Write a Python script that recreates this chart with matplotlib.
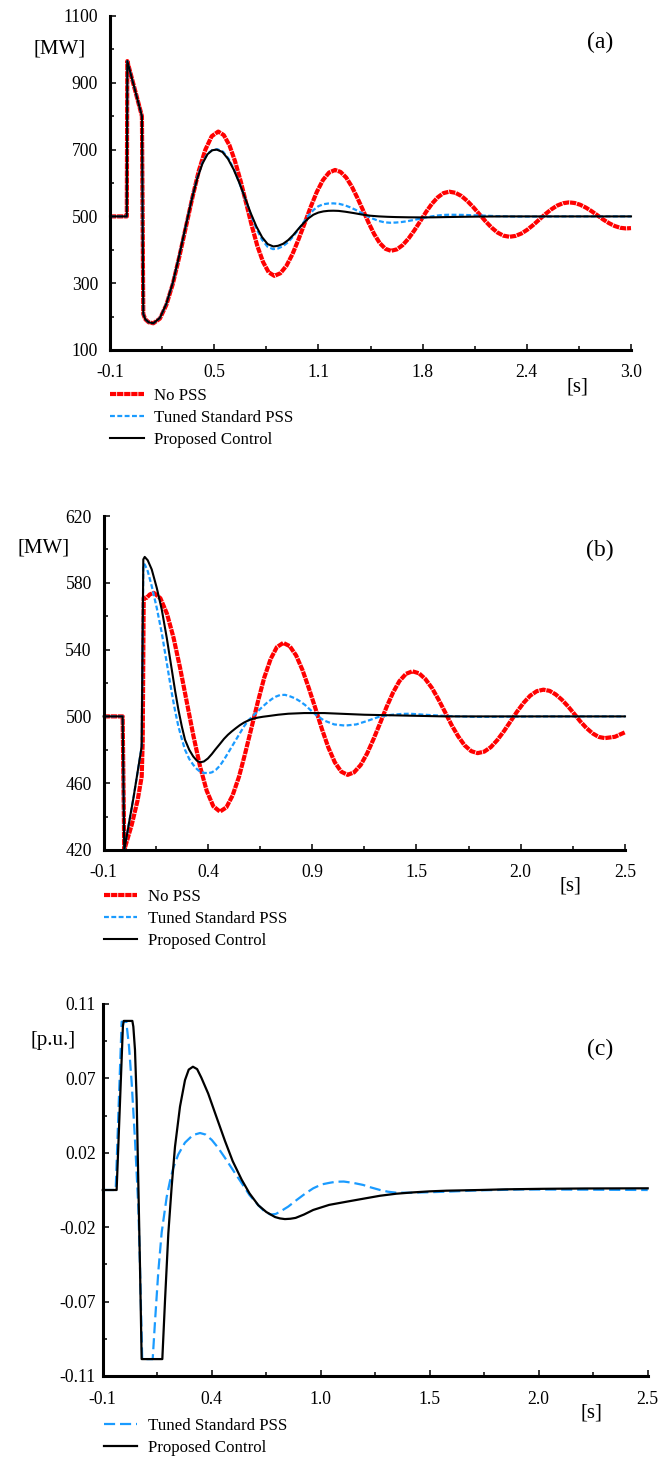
import numpy as np
import matplotlib
matplotlib.use("Agg")
import matplotlib.pyplot as plt
from matplotlib.ticker import FixedLocator, FixedFormatter, AutoMinorLocator

plt.rcParams['font.family'] = ['Liberation Serif', 'DejaVu Serif']

# ---------------- data: panel (a) ----------------
t_a_nopss = [-0.1, 0.0, 0.003, 0.09, 0.098, 0.11, 0.13,
             0.158, 0.197, 0.235, 0.274, 0.312, 0.351, 0.390, 0.428, 0.467, 0.505,
             0.544, 0.577, 0.611, 0.644, 0.678, 0.711, 0.744, 0.777, 0.811, 0.844,
             0.878, 0.914, 0.950, 0.986, 1.022, 1.059, 1.095, 1.131, 1.167, 1.203,
             1.239, 1.272, 1.306, 1.339, 1.372, 1.406, 1.439, 1.472, 1.505, 1.539,
             1.572, 1.607, 1.641, 1.676, 1.711, 1.746, 1.780, 1.815, 1.850, 1.884,
             1.919, 1.955, 1.991, 2.026, 2.062, 2.098, 2.134, 2.170, 2.205, 2.241,
             2.277, 2.312, 2.348, 2.383, 2.419, 2.454, 2.489, 2.525, 2.560, 2.596,
             2.631, 2.665, 2.699, 2.733, 2.767, 2.801, 2.834, 2.868, 2.902, 2.936,
             2.97, 3.0]
v_a_nopss = [500, 500, 965, 800, 208, 192, 183,
             180, 194.1, 234.8, 298.3, 378.3, 467, 555.7, 635.7, 699.2, 739.9,
             754, 743.4, 712.7, 665, 604.7, 538, 471.3, 411, 363.3, 332.6,
             322, 329.8, 352.3, 387.3, 431.5, 480.5, 529.5, 573.7, 608.7, 631.2,
             639, 633.1, 615.9, 589.1, 555.4, 518, 480.6, 446.9, 420.1, 402.9,
             397, 401.3, 413.9, 433.5, 458.2, 485.5, 512.8, 537.5, 557.1, 569.7,
             574, 570.7, 561.1, 546.2, 527.4, 506.5, 485.6, 466.8, 451.9, 442.3,
             439, 441.5, 448.8, 460.2, 474.6, 490.5, 506.4, 520.8, 532.2, 539.5,
             542, 540.1, 534.6, 525.9, 515.1, 503, 490.9, 480.1, 471.4, 465.9,
             464, 465]

t_a_pss = [-0.1, 0.0, 0.003, 0.09, 0.098, 0.11, 0.13,
           0.158, 0.197, 0.235, 0.274, 0.312, 0.351, 0.390, 0.420, 0.450, 0.480, 0.510,
           0.54, 0.573, 0.606, 0.639, 0.672, 0.705, 0.738, 0.771, 0.804, 0.837,
           0.87, 0.90, 0.93, 0.96, 0.99, 1.02, 1.05, 1.08, 1.11, 1.14, 1.17, 1.20,
           1.229, 1.263, 1.296, 1.330, 1.364, 1.398, 1.431, 1.465, 1.499, 1.532,
           1.566, 1.601, 1.637, 1.672, 1.708, 1.743, 1.778, 1.814, 1.849, 1.885,
           1.92, 2.0, 2.1, 2.2, 2.3, 2.45, 2.6, 3.0]
v_a_pss = [500, 500, 965, 800, 208, 192, 183,
           180, 196, 238, 302, 383, 472, 560, 618, 661, 688, 699,
           701, 693.7, 672.4, 639.4, 597.7, 551.5, 505.3, 463.6, 430.6, 409.3,
           402, 404, 411, 423, 440, 460, 481, 502, 519, 530.5, 536.5, 538.7,
           539, 537.6, 533.5, 527, 519, 510, 501, 493, 486.5, 482.4,
           481, 481.6, 483.3, 485.9, 489.3, 493, 496.7, 500.1, 502.7, 504.4,
           505, 504.5, 502.8, 500.8, 499.6, 499.5, 500, 500]

t_a_prop = [-0.1, 0.0, 0.003, 0.09, 0.098, 0.11, 0.13,
            0.158, 0.197, 0.235, 0.274, 0.312, 0.351, 0.390, 0.420, 0.450, 0.480, 0.508,
            0.535, 0.569, 0.602, 0.636, 0.670, 0.704, 0.737, 0.771, 0.805, 0.838,
            0.872, 0.90, 0.93, 0.96, 0.99, 1.02, 1.05, 1.08, 1.11, 1.14, 1.17, 1.20,
            1.229, 1.26, 1.30, 1.35, 1.40, 1.45, 1.50, 1.55, 1.60, 1.675, 1.75, 1.825,
            1.90, 2.0, 2.10, 2.25, 2.4, 3.0]
v_a_prop = [500, 500, 965, 800, 208, 192, 183,
            180, 196, 238, 302, 383, 472, 558, 615, 658, 686, 698,
            700, 692.9, 672.3, 640.2, 599.8, 555, 510.2, 469.8, 437.7, 417.1,
            410, 412, 418, 429, 444, 462, 479, 494, 505, 511.5, 515, 516.7,
            517, 516.5, 514, 510, 505.5, 502, 500, 498.8, 498, 497.3, 497, 497.3,
            498, 498.8, 499.5, 500, 500, 500]

# ---------------- data: panel (b) ----------------
t_b_nopss = [-0.1, -0.005, 0.003, 0.04, 0.07, 0.09, 0.095, 0.1, 0.115, 0.13,
             0.15, 0.183, 0.216, 0.249, 0.282, 0.315, 0.348, 0.381, 0.414, 0.447,
             0.48, 0.512, 0.543, 0.575, 0.606, 0.638, 0.670, 0.701, 0.733, 0.764,
             0.796, 0.828, 0.860, 0.892, 0.924, 0.957, 0.989, 1.021, 1.053, 1.085,
             1.117, 1.149, 1.182, 1.214, 1.246, 1.279, 1.311, 1.343, 1.375, 1.408,
             1.44, 1.473, 1.505, 1.538, 1.570, 1.603, 1.635, 1.668, 1.700, 1.733,
             1.765, 1.798, 1.831, 1.863, 1.896, 1.929, 1.962, 1.995, 2.027, 2.060,
             2.093, 2.124, 2.154, 2.185, 2.216, 2.247, 2.277, 2.308, 2.339, 2.369,
             2.40, 2.45, 2.5]
v_b_nopss = [500, 500, 420, 435, 450, 464, 485, 571, 571, 573,
             574, 570.8, 561.5, 547, 528.7, 508.5, 488.3, 470, 455.5, 446.2,
             443, 445.5, 452.6, 463.8, 477.9, 493.5, 509.1, 523.2, 534.4, 541.5,
             544, 542.1, 536.5, 527.7, 516.7, 504.5, 492.3, 481.3, 472.5, 466.9,
             465, 466.5, 470.9, 477.8, 486.4, 496, 505.6, 514.2, 521.1, 525.5,
             527, 525.8, 522.3, 516.9, 510.1, 502.5, 494.9, 488.1, 482.7, 479.2,
             478, 478.9, 481.6, 485.8, 491.1, 497, 502.9, 508.2, 512.4, 515.1,
             516, 515.3, 513.2, 510, 506, 501.5, 497, 493, 489.8, 487.7,
             487, 487.8, 490.5]

t_b_pss = [-0.1, -0.005, 0.003, 0.05, 0.09, 0.098, 0.105, 0.12, 0.14, 0.165, 0.19, 0.215, 0.24, 0.257,
           0.273, 0.29, 0.306, 0.327, 0.347, 0.365, 0.38, 0.40, 0.422, 0.44, 0.46, 0.48, 0.50, 0.525,
           0.55, 0.575, 0.60, 0.625, 0.647, 0.67, 0.69, 0.715, 0.74, 0.76, 0.78, 0.805, 0.83, 0.855,
           0.88, 0.905, 0.93, 0.963, 1.00, 1.05, 1.104, 1.16, 1.22, 1.279, 1.34, 1.39, 1.428, 1.50,
           1.6, 1.75, 1.9, 2.1, 2.5]
v_b_pss = [500, 500, 420, 452, 482, 591, 591, 587, 578, 565, 550, 532, 514, 503,
           494, 486.5, 480, 474.5, 471, 468.5, 467, 466.2, 466, 466.5, 468, 470.5, 474, 479,
           484, 489, 494, 498, 500.5, 503.2, 505.5, 508.2, 510.5, 511.9, 512.8, 512.9, 512, 510.8,
           509, 506.8, 504, 500.5, 497.5, 495.2, 494.5, 495.2, 497.5, 500, 501, 501.5, 501.6, 501,
           500.3, 499.7, 499.8, 500, 500]

t_b_prop = [-0.1, -0.005, 0.003, 0.05, 0.09, 0.098, 0.105, 0.12, 0.14, 0.165, 0.19, 0.215, 0.24, 0.257,
            0.273, 0.29, 0.306, 0.327, 0.347, 0.365, 0.381, 0.40, 0.42, 0.44, 0.456, 0.48, 0.50, 0.52,
            0.539, 0.56, 0.58, 0.60, 0.622, 0.645, 0.67, 0.695, 0.721, 0.77, 0.821, 0.9, 1.0, 1.1,
            1.2, 1.4, 1.6, 2.0, 2.5]
v_b_prop = [500, 500, 420, 452, 482, 594, 595.5, 593.5, 588, 577, 564, 547, 528, 515,
            504, 494, 486, 480, 476, 473.5, 472.5, 473, 474.8, 477.5, 480, 483.5, 486.5, 489,
            491, 493, 494.8, 496.3, 497.6, 498.6, 499.3, 499.8, 500.2, 501, 501.6, 502, 502, 501.5,
            501, 500.5, 500, 500, 500]

# ---------------- data: panel (c) ----------------
t_c_pss = [-0.1, -0.0385, -0.02, -0.01, 0.012, 0.025, 0.038, 0.0536, 0.0695, 0.0775, 0.088, 0.138,
           0.149, 0.165, 0.181, 0.205, 0.22, 0.236, 0.26, 0.292, 0.33, 0.364, 0.39, 0.42, 0.45,
           0.483, 0.52, 0.563, 0.60, 0.642, 0.67, 0.70, 0.725, 0.746, 0.785, 0.825, 0.865, 0.904,
           0.944, 0.984, 1.015, 1.05, 1.095, 1.142, 1.18, 1.223, 1.26, 1.30, 1.38, 1.46, 1.54,
           1.7, 1.9, 2.2, 2.5]
v_c_pss = [0, 0, 0.065, 0.0995, 0.0995, 0.085, 0.063, 0.0296, -0.0099, -0.0454, -0.1, -0.1,
           -0.078, -0.048, -0.025, -0.004, 0.005, 0.013, 0.021, 0.028, 0.0325, 0.0337, 0.0328, 0.0296, 0.025,
           0.019, 0.012, 0.004, -0.003, -0.009, -0.0125, -0.0145, -0.0142, -0.0128, -0.0098, -0.0059, -0.0022, 0.001,
           0.0033, 0.0043, 0.0049, 0.005, 0.0042, 0.003, 0.0015, 0.0, -0.001, -0.0016, -0.0016, -0.0013, -0.001,
           -0.0002, 0.0003, 0.0002, 0.0]

t_c_prop = [-0.1, -0.034, -0.004, 0.0, 0.041, 0.0457, 0.0536, 0.0616, 0.0695, 0.0775, 0.0854, 0.184,
            0.197, 0.2127, 0.2286, 0.2445, 0.2683, 0.2922, 0.31, 0.33, 0.35, 0.37, 0.403, 0.44, 0.483,
            0.52, 0.563, 0.60, 0.642, 0.68, 0.722, 0.745, 0.769, 0.795, 0.82, 0.86, 0.904, 0.98, 1.064,
            1.15, 1.223, 1.30, 1.382, 1.46, 1.541, 1.7, 1.82, 2.0, 2.2, 2.5]
v_c_prop = [0, 0, 0.097, 0.1, 0.1, 0.0966, 0.0828, 0.0532, 0.004, -0.0454, -0.1, -0.1,
            -0.065, -0.0256, 0.002, 0.0256, 0.0493, 0.065, 0.0712, 0.0729, 0.0715, 0.0665, 0.057, 0.044, 0.029,
            0.017, 0.006, -0.002, -0.009, -0.013, -0.016, -0.0168, -0.0172, -0.0170, -0.0165, -0.0145, -0.0118, -0.0088, -0.0069,
            -0.005, -0.0034, -0.0022, -0.0014, -0.0008, -0.0004, 0.0, 0.0004, 0.0007, 0.0009, 0.001]

# tick labels
xlabels_a = ['-0.1', '0.5', '1.1', '1.8', '2.4', '3.0']
ylabels_a = ['100', '300', '500', '700', '900', '1100']
xlabels_b = ['-0.1', '0.4', '0.9', '1.5', '2.0', '2.5']
ylabels_b = ['420', '460', '500', '540', '580', '620']
xlabels_c = ['-0.1', '0.4', '1.0', '1.5', '2.0', '2.5']
ylabels_c = ['-0.11', '-0.07', '-0.02', '0.02', '0.07', '0.11']

names = ['No PSS', 'Tuned Standard PSS', 'Proposed Control']

# ---------------- figure ----------------
W, H = 671, 1459
fig = plt.figure(figsize=(W / 100, H / 100), dpi=100)
FS = 12.7
LFS = 12.2

def rect(l, t, r, b):
    return [l / W, 1 - b / H, (r - l) / W, (b - t) / H]

def fpos(x, y):
    return (x / W, 1 - y / H)

RED = '#ff0000'
BLUE = '#1a9bff'
BLACK = '#000000'

def style(ax, xlim, ylim, xl, yl, ypad=8.5, xpad=10):
    ax.set_xlim(*xlim)
    ax.set_ylim(*ylim)
    for s in ['top', 'right']:
        ax.spines[s].set_visible(False)
    for s in ['left', 'bottom']:
        ax.spines[s].set_linewidth(2.2)
    ax.xaxis.set_major_locator(FixedLocator(np.linspace(xlim[0], xlim[1], 6)))
    ax.xaxis.set_major_formatter(FixedFormatter(xl))
    ax.yaxis.set_major_locator(FixedLocator(np.linspace(ylim[0], ylim[1], 6)))
    ax.yaxis.set_major_formatter(FixedFormatter(yl))
    ax.xaxis.set_minor_locator(AutoMinorLocator(2))
    ax.yaxis.set_minor_locator(AutoMinorLocator(2))
    ax.tick_params(which='both', direction='in', width=1.1, labelsize=FS)
    ax.tick_params(which='major', length=4)
    ax.tick_params(which='minor', length=2.8)
    ax.tick_params(axis='x', which='major', pad=xpad)
    ax.tick_params(axis='y', which='major', pad=ypad)

red_ls = (0, (1.5, 0.2))
blue_ls_short = (0, (2.2, 1.1))
blue_ls_long = (0, (5, 2.2))

# panel (a)
ax_a = fig.add_axes(rect(110, 16, 631, 350))
style(ax_a, (-0.1, 3.0), (100, 1100), xlabels_a, ylabels_a)
ax_a.plot(t_a_nopss, v_a_nopss, color=RED, lw=3.0, ls=red_ls, label=names[0], clip_on=False)
ax_a.plot(t_a_pss, v_a_pss, color=BLUE, lw=1.6, ls=blue_ls_short, label=names[1], clip_on=False)
ax_a.plot(t_a_prop, v_a_prop, color=BLACK, lw=1.5, label=names[2], clip_on=False)

# panel (b)
ax_b = fig.add_axes(rect(103.6, 516, 625, 850))
style(ax_b, (-0.1, 2.5), (420, 620), xlabels_b, ylabels_b)
ax_b.plot(t_b_nopss, v_b_nopss, color=RED, lw=3.0, ls=red_ls, label=names[0], clip_on=False)
ax_b.plot(t_b_pss, v_b_pss, color=BLUE, lw=1.6, ls=blue_ls_short, label=names[1], clip_on=False)
ax_b.plot(t_b_prop, v_b_prop, color=BLACK, lw=1.5, label=names[2], clip_on=False)

# panel (c)
ax_c = fig.add_axes(rect(102.8, 1004, 647.7, 1376))
style(ax_c, (-0.1, 2.5), (-0.11, 0.11), xlabels_c, ylabels_c, ypad=5, xpad=11)
ax_c.plot(t_c_pss, v_c_pss, color=BLUE, lw=1.6, ls=blue_ls_long, label=names[1], clip_on=False)
ax_c.plot(t_c_prop, v_c_prop, color=BLACK, lw=1.6, label=names[2], clip_on=False)

# texts
for (x, y, s, fs) in [(59.6, 49.3, '[MW]', 15), (43.2, 548.3, '[MW]', 15), (52.9, 1041, '[p.u.]', 15),
                      (600.5, 42.3, '(a)', 17), (600, 550, '(b)', 17), (600, 1049.3, '(c)', 17),
                      (577.7, 386.7, '[s]', 15), (570.8, 886, '[s]', 15), (591.5, 1413.3, '[s]', 15)]:
    fig.text(*fpos(x, y), s, ha='center', va='center', fontsize=fs)

# legends
for ax, (lx, ly) in [(ax_a, (110, 388)), (ax_b, (103.6, 889)), (ax_c, (103.6, 1418))]:
    ax.legend(loc='upper left', bbox_to_anchor=fpos(lx, ly), bbox_transform=fig.transFigure,
              frameon=False, borderaxespad=0, borderpad=0, fontsize=LFS,
              handlelength=2.0, handletextpad=0.6, labelspacing=0.35)

fig.savefig('out.png', dpi=100)
